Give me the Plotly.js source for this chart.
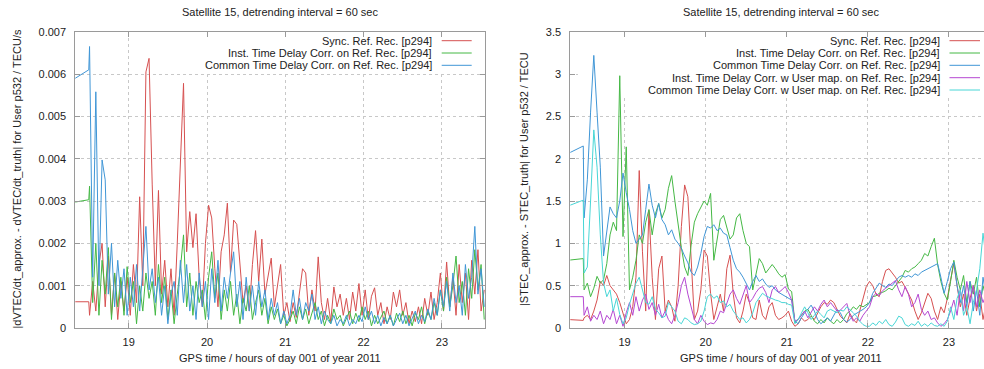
<!DOCTYPE html>
<html>
<head>
<meta charset="utf-8">
<script src="https://cdn.plot.ly/plotly-3.0.1.min.js"></script>
<style>html,body{margin:0;padding:0;background:#fff;}#chart{width:984px;height:369px;}</style>
</head>
<body>
<div id="chart"></div>
<script>
// ---------- DATA ----------
const hours = [18.30,18.49,
  18.50,18.54,18.58,18.62,18.66,18.70,18.74,18.78,18.82,18.86,
  18.90,18.94,18.98,19.02,19.06,19.10,19.14,19.18,19.22,19.26,
  19.30,19.34,19.38,19.42,19.46,19.50,19.54,19.58,19.62,19.66,
  19.70,19.74,19.78,19.82,19.86,19.90,19.94,19.98,20.02,20.06,
  20.10,20.14,20.18,20.22,20.26,20.30,20.34,20.38,20.42,20.46,
  20.50,20.54,20.58,20.62,20.66,20.70,20.74,20.78,20.82,20.86,
  20.90,20.94,20.98,21.02,21.06,21.10,21.14,21.18,21.22,21.26,
  21.30,21.34,21.38,21.42,21.46,21.50,21.54,21.58,21.62,21.66,
  21.70,21.74,21.78,21.82,21.86,21.90,21.94,21.98,22.02,22.06,
  22.10,22.14,22.18,22.22,22.26,22.30,22.34,22.38,22.42,22.46,
  22.50,22.54,22.58,22.62,22.66,22.70,22.74,22.78,22.82,22.86,
  22.90,22.94,22.98,23.02,23.06,23.10,23.14,23.18,23.22,23.26,
  23.30,23.34,23.38,23.42,23.46,23.50,23.54];

const hourTicks = [19, 20, 21, 22, 23];
const rateTicks = [0, 0.001, 0.002, 0.003, 0.004, 0.005, 0.006, 0.007];
const stecTicks = [0, 0.5, 1, 1.5, 2, 2.5, 3, 3.5];

const seriesNamesLeft = [
  "Sync. Ref. Rec. [p294]",
  "Inst. Time Delay Corr. on Ref. Rec. [p294]",
  "Common Time Delay Corr. on Ref. Rec. [p294]"
];
const seriesNamesRight = [
  "Sync. Ref. Rec. [p294]",
  "Inst. Time Delay Corr. on Ref. Rec. [p294]",
  "Common Time Delay Corr. on Ref. Rec. [p294]",
  "Inst. Time Delay Corr. w User map. on Ref. Rec. [p294]",
  "Common Time Delay Corr. w User map. on Ref. Rec. [p294]"
];

// Left panel: |dVTEC/dt_approx. - dVTEC/dt_truth| (TECU/s)
const leftSync = [.00062,.00062,
  .0003,.0011,.0004,.0015,.0020,.0005,.0017,.0003,.0013,.0002,
  .0011,.0004,.0012,.0003,.0015,.0006,.0031,.0010,.00605,.00637,
  .0034,.0010,.00325,.0008,.0016,.0005,.0014,.0003,.0020,.0041,
  .00578,.0018,.00275,.0019,.0027,.0012,.0005,.0020,.0029,.0026,
  .0014,.0005,.0018,.0022,.00295,.0013,.00255,.00245,.0015,.0006,
  .0010,.0004,.0015,.0023,.0011,.0021,.0008,.0012,.00165,.0005,
  .0010,.0015,.0003,.0006,.00015,.0006,.00025,.0009,.0014,.0013,
  .0003,.0009,.0004,.00168,.0006,.0002,.0007,.00015,.00097,.0005,
  .0008,.0003,.0007,.0002,.00085,.0004,.00105,.0003,.0009,.0002,
  .00075,.00095,.0003,.0006,.0001,.0005,.0002,.00085,.0005,.0009,
  .0003,.0006,.0001,.0004,.00015,.0005,.0001,.0007,.0003,.00085,
  .0002,.0006,.0013,.0004,.00156,.0005,.0012,.0003,.0015,.0006,
  .0013,.0002,.0016,.0008,.00185,.0004,.0009];
const leftInst = [.00297,.00303,
  .00335,.0006,.0020,.0003,.0016,.0008,.0019,.0002,.0013,.0005,
  .0012,.0003,.00145,.0006,.0011,.0001,.0010,.0004,.0013,.0007,
  .0011,.0003,.0015,.0006,.0012,.0002,.0009,.0001,.0008,.0014,
  .0022,.0005,.0013,.0003,.0011,.0006,.0009,.0002,.0012,.0018,
  .0007,.0013,.0002,.0009,.0004,.0011,.0003,.0008,.0001,.0007,
  .0004,.0010,.0002,.0006,.0009,.0003,.0007,.0001,.0005,.0002,
  .00045,.0001,.0003,.00005,.0002,.0004,.0001,.0005,.0002,.00045,
  .0001,.00035,.0006,.0002,.0004,.00005,.0003,.0001,.00045,.0002,
  .0003,.00005,.00025,.0004,.0001,.00035,.00015,.0005,.0002,.0004,
  .00005,.0003,.0001,.00025,.0004,.0001,.0003,.00005,.00035,.00015,
  .0004,.0001,.0003,.00005,.00035,.0002,.0005,.0001,.0004,.0002,
  .0006,.0003,.0009,.0004,.0012,.0005,.0010,.0017,.0006,.0011,
  .0003,.0014,.0007,.00185,.0009,.0015,.0002];
const leftCommon = [.00588,.0061,
  .00665,.0012,.00558,.0010,.00397,.0035,.0008,.0020,.0005,.0016,
  .0007,.0014,.0003,.0012,.0005,.0015,.0004,.0013,.0024,.0009,
  .0014,.0006,.0012,.0003,.0010,.0001,.0008,.0011,.0003,.0016,
  .0006,.0015,.0004,.0010,.0002,.0013,.0005,.0011,.0002,.0014,
  .0006,.0016,.0004,.0012,.0007,.0013,.0018,.0005,.0011,.0002,
  .0012,.0004,.0010,.0003,.0011,.0005,.0009,.0002,.0007,.0003,
  .0006,.0001,.0004,.0001,.0003,.0009,.0003,.0007,.0002,.0006,
  .0004,.0008,.0002,.0005,.0001,.0004,.0002,.0001,.0003,.00005,
  .0002,.0001,.0003,.00005,.0002,.0001,.0003,.00015,.0005,.0002,
  .0004,.0001,.0003,.00005,.00025,.0001,.0003,.00005,.0002,.00035,
  .0001,.0003,.00005,.00025,.0004,.0001,.0003,.00015,.00045,.0002,
  .0007,.0003,.0009,.0005,.0011,.0004,.0013,.0006,.0010,.0003,
  .0015,.0007,.0012,.0024,.0008,.0014,.0005];

// Right panel: |STEC_approx. - STEC_truth| (TECU)
const rightSync = [0.10,0.09,
  0.12,0.15,0.10,0.20,0.33,0.55,0.50,0.62,0.50,0.45,
  0.40,0.30,0.16,0.05,0.10,0.25,0.60,1.86,0.90,0.20,
  1.39,0.60,0.10,0.70,0.85,0.20,0.33,0.25,0.08,0.50,
  1.20,1.69,1.55,0.80,0.10,0.20,0.45,0.92,0.85,0.41,
  0.10,0.25,0.40,0.20,0.70,0.86,0.40,0.12,0.06,0.20,
  0.40,0.30,0.12,0.10,0.33,0.15,0.10,0.25,0.30,0.15,
  0.10,0.12,0.15,0.20,0.08,0.02,0.05,0.12,0.08,0.10,
  0.14,0.10,0.17,0.25,0.30,0.28,0.33,0.30,0.22,0.14,
  0.10,0.06,0.17,0.10,0.06,0.20,0.35,0.49,0.55,0.50,
  0.40,0.37,0.55,0.68,0.70,0.65,0.60,0.53,0.55,0.48,
  0.40,0.33,0.20,0.10,0.18,0.30,0.41,0.35,0.20,0.10,
  0.25,0.18,0.35,0.57,0.76,0.50,0.25,0.40,0.15,0.35,
  0.50,0.20,0.40,0.10,0.30,0.15,0.25];
const rightInst = [0.80,0.82,
  0.45,0.53,0.37,0.47,0.61,0.53,0.57,0.76,1.10,1.25,
  1.15,2.98,1.08,2.14,0.45,0.60,0.80,1.10,1.00,1.25,
  1.40,1.10,1.35,1.47,1.30,1.40,1.65,1.80,1.50,1.20,
  0.95,0.72,0.62,0.98,1.25,1.35,1.42,1.50,1.45,1.59,
  0.80,1.05,1.28,1.33,1.20,1.05,1.10,1.30,1.35,1.15,
  1.00,0.96,0.45,0.65,0.82,0.76,0.65,0.70,0.75,0.70,
  0.64,0.60,0.63,0.46,0.43,0.06,0.10,0.15,0.20,0.22,
  0.15,0.08,0.05,0.10,0.06,0.12,0.08,0.05,0.10,0.06,
  0.10,0.17,0.20,0.25,0.22,0.27,0.25,0.27,0.30,0.37,
  0.38,0.41,0.42,0.44,0.47,0.45,0.50,0.56,0.60,0.68,
  0.66,0.70,0.72,0.76,0.80,0.88,0.85,0.96,1.06,0.75,
  0.55,0.41,0.33,0.55,0.80,0.60,0.45,0.62,0.30,0.55,
  0.40,0.60,0.25,0.50,0.35,0.45,0.30];
const rightCommon = [2.06,2.15,
  1.30,1.75,2.55,3.22,2.55,1.90,0.85,1.16,1.43,1.35,
  1.30,1.50,1.83,1.60,1.40,1.15,1.00,1.05,1.10,1.40,
  1.70,1.45,1.30,1.47,1.28,1.22,1.10,1.16,1.05,1.00,
  0.94,0.85,0.77,0.66,0.62,0.72,0.88,1.08,1.20,1.18,
  1.22,1.15,1.18,1.12,1.10,0.95,0.80,0.70,0.66,0.60,
  0.52,0.45,0.55,0.62,0.55,0.58,0.52,0.48,0.50,0.45,
  0.42,0.40,0.38,0.36,0.33,0.08,0.05,0.12,0.18,0.22,
  0.27,0.20,0.10,0.05,0.08,0.12,0.08,0.15,0.22,0.18,
  0.10,0.07,0.10,0.15,0.17,0.20,0.22,0.25,0.30,0.41,
  0.47,0.53,0.50,0.48,0.52,0.50,0.55,0.60,0.62,0.60,
  0.62,0.60,0.64,0.62,0.66,0.68,0.70,0.72,0.74,0.76,
  0.60,0.41,0.55,0.70,0.78,0.50,0.30,0.50,0.25,0.55,
  0.20,0.45,0.15,0.60,0.35,0.50,0.40];
const rightInstUser = [0.37,0.37,
  0.15,0.25,0.08,0.15,0.10,0.20,0.05,0.15,0.10,0.22,
  0.05,0.15,0.02,0.18,0.30,0.15,0.37,0.20,0.33,0.40,
  0.22,0.30,0.15,0.28,0.12,0.20,0.10,0.05,0.15,0.30,
  0.50,0.60,0.40,0.25,0.10,0.05,0.15,0.08,0.04,0.06,
  0.05,0.10,0.20,0.18,0.30,0.40,0.45,0.35,0.28,0.38,
  0.50,0.30,0.35,0.42,0.47,0.49,0.42,0.30,0.45,0.49,
  0.42,0.45,0.49,0.42,0.33,0.08,0.10,0.15,0.20,0.12,
  0.18,0.25,0.20,0.28,0.33,0.25,0.30,0.25,0.20,0.21,
  0.25,0.29,0.15,0.08,0.12,0.08,0.15,0.20,0.25,0.37,
  0.41,0.38,0.44,0.47,0.50,0.53,0.56,0.45,0.37,0.49,
  0.40,0.25,0.30,0.40,0.22,0.15,0.20,0.10,0.12,0.06,
  0.02,0.05,0.10,0.20,0.33,0.15,0.45,0.20,0.55,0.30,
  0.50,0.25,0.45,0.30,0.40,0.20,0.30];
const rightCommonUser = [1.44,1.51,
  0.65,0.72,1.50,2.34,1.90,1.10,0.53,0.37,0.45,0.20,
  0.35,0.16,0.05,0.12,0.28,0.40,0.53,0.60,0.45,0.30,
  0.28,0.37,0.22,0.18,0.12,0.14,0.30,0.25,0.20,0.08,
  0.05,0.12,0.10,0.06,0.04,0.05,0.08,0.20,0.37,0.40,
  0.35,0.38,0.30,0.32,0.25,0.28,0.20,0.15,0.10,0.12,
  0.06,0.10,0.18,0.30,0.35,0.41,0.38,0.36,0.35,0.33,
  0.32,0.30,0.30,0.28,0.27,0.05,0.10,0.18,0.25,0.18,
  0.10,0.15,0.20,0.16,0.12,0.20,0.22,0.20,0.18,0.21,
  0.20,0.25,0.22,0.18,0.14,0.08,0.04,0.02,0.02,0.06,
  0.03,0.08,0.05,0.10,0.04,0.02,0.07,0.14,0.12,0.04,
  0.02,0.05,0.03,0.08,0.02,0.05,0.02,0.06,0.03,0.02,
  0.05,0.02,0.08,0.25,0.10,0.35,0.45,0.15,0.25,0.05,
  0.30,0.45,0.70,1.12,0.80,0.60,0.50];

// ---------- STYLE / LAYOUT ----------
const colors = ['#d65050', '#45b845', '#4096d6', '#b548d2', '#48d6d6'];
const W = 984, H = 369;
const px = v => v / W;          // pixel -> paper x
const py = v => 1 - v / H;      // pixel -> paper y
const FONT = '"Liberation Sans", Arial, sans-serif';
const TXT = '#222';

const leftSeries = [leftSync, leftInst, leftCommon];
const rightSeries = [rightSync, rightInst, rightCommon, rightInstUser, rightCommonUser];

const traces = [];
leftSeries.forEach((ys, k) => traces.push({
  type: 'scatter', mode: 'lines', x: hours, y: ys, name: seriesNamesLeft[k],
  xaxis: 'x', yaxis: 'y', line: {color: colors[k], width: 1}, hoverinfo: 'skip'
}));
rightSeries.forEach((ys, k) => traces.push({
  type: 'scatter', mode: 'lines', x: hours, y: ys, name: seriesNamesRight[k],
  xaxis: 'x2', yaxis: 'y2', line: {color: colors[k], width: 1}, hoverinfo: 'skip'
}));

const axisBase = {
  showline: true, linecolor: '#9a9a9a', linewidth: 1,
  ticks: 'inside', ticklen: 5, tickcolor: '#9a9a9a', tickwidth: 1,
  showgrid: true, gridcolor: '#c8c8c8', griddash: 'dot', gridwidth: 1,
  zeroline: false, tickfont: {family: FONT, size: 11, color: TXT}
};
const yDom = [py(328), py(31.7)];

const layout = {
  width: W, height: H,
  margin: {l: 0, r: 0, t: 0, b: 0},
  paper_bgcolor: '#fff', plot_bgcolor: '#fff',
  font: {family: FONT, size: 11, color: TXT},
  showlegend: false,
  xaxis: Object.assign({}, axisBase, {domain: [px(75.3), px(485)], range: [18.318, 23.55],
    anchor: 'y', tickvals: hourTicks, mirror: 'allticks', ticklabelstandoff: 4}),
  yaxis: Object.assign({}, axisBase, {domain: yDom, range: [0, 0.007],
    anchor: 'x', tickvals: rateTicks, ticktext: rateTicks.map(String), mirror: 'allticks', ticklabelstandoff: 6}),
  xaxis2: Object.assign({}, axisBase, {domain: [px(570.3), 1], range: [18.33, 23.432],
    anchor: 'y2', tickvals: hourTicks, mirror: 'allticks', ticklabelstandoff: 4}),
  yaxis2: Object.assign({}, axisBase, {domain: yDom, range: [0, 3.5],
    anchor: 'x2', tickvals: stecTicks, ticktext: stecTicks.map(String), mirror: false, ticklabelstandoff: 6}),
  shapes: [],
  annotations: []
};

// key backgrounds (hide the grid behind the key; drawn between grid and data)
layout.shapes.push({type: 'rect', xref: 'x', yref: 'y', layer: 'between',
  x0: 19.08, x1: 23.55, y0: 0.00605, y1: 0.007, fillcolor: '#fff', line: {width: 0}});
layout.shapes.push({type: 'rect', xref: 'x2', yref: 'y2', layer: 'between',
  x0: 18.425, x1: 23.432, y0: 2.73, y1: 3.5, fillcolor: '#fff', line: {width: 0}});

const rowY = [40.7, 53, 65.3, 77.7, 90];
seriesNamesLeft.forEach((nm, k) => {
  layout.annotations.push({xref: 'paper', yref: 'paper', x: px(433.5), y: py(rowY[k]),
    xanchor: 'right', yanchor: 'middle', showarrow: false, text: nm,
    font: {family: FONT, size: 11, color: TXT}});
  layout.shapes.push({type: 'line', xref: 'paper', yref: 'paper',
    x0: px(441.7), x1: px(471.7), y0: py(rowY[k]), y1: py(rowY[k]), line: {color: colors[k], width: 1}});
});
seriesNamesRight.forEach((nm, k) => {
  layout.annotations.push({xref: 'paper', yref: 'paper', x: px(942), y: py(rowY[k]),
    xanchor: 'right', yanchor: 'middle', showarrow: false, text: nm,
    font: {family: FONT, size: 11, color: TXT}});
  layout.shapes.push({type: 'line', xref: 'paper', yref: 'paper',
    x0: px(949.5), x1: px(980), y0: py(rowY[k]), y1: py(rowY[k]), line: {color: colors[k], width: 1}});
});

// titles
const title = 'Satellite 15, detrending interval = 60 sec';
const xTitle = 'GPS time / hours of day 001 of year 2011';
[[280, title, 11.7], [781, title, 11.7], [279.5, xTitle, 358.3], [781, xTitle, 358.3]].forEach(a => {
  layout.annotations.push({xref: 'paper', yref: 'paper', x: px(a[0]), y: py(a[2]),
    xanchor: 'center', yanchor: 'middle', showarrow: false, text: a[1],
    font: {family: FONT, size: 11, color: TXT}});
});
layout.annotations.push({xref: 'paper', yref: 'paper', x: px(16.5), y: py(179),
  xanchor: 'center', yanchor: 'middle', showarrow: false, textangle: -90,
  text: '|dVTEC/dt_approx. - dVTEC/dt_truth| for User p532 / TECU/s',
  font: {family: FONT, size: 11, color: TXT}});
layout.annotations.push({xref: 'paper', yref: 'paper', x: px(524), y: py(179),
  xanchor: 'center', yanchor: 'middle', showarrow: false, textangle: -90,
  text: '|STEC_approx. - STEC_truth| for User p532 / TECU',
  font: {family: FONT, size: 11, color: TXT}});

Plotly.newPlot('chart', traces, layout, {staticPlot: true, displayModeBar: false});
</script>
</body>
</html>
